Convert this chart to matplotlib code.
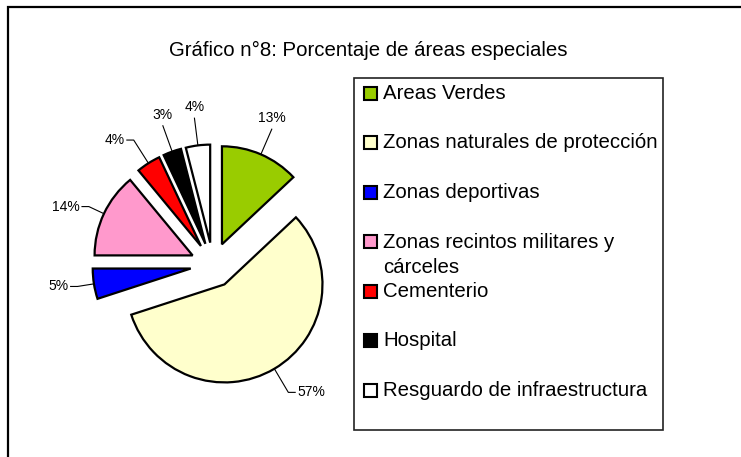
import numpy as np
import matplotlib.pyplot as plt
from matplotlib.patches import Rectangle

plt.rcParams['font.family'] = ['Liberation Sans', 'DejaVu Sans']

# data
categories = ['Areas Verdes', 'Zonas naturales de protección', 'Zonas deportivas',
              'Zonas recintos militares y\ncárceles', 'Cementerio', 'Hospital',
              'Resguardo de infraestructura']
values = [13, 57, 5, 14, 4, 3, 4]
colors = ['#99CC00', '#FFFFCC', '#0000FF', '#FF99CC', '#FF0000', '#000000', '#FFFFFF']
title = 'Gráfico n°8: Porcentaje de áreas especiales'

W, H = 741, 457
fig = plt.figure(figsize=(W / 100, H / 100), dpi=100)

# outer chart frame (cropped on right/bottom)
fig.patches.append(Rectangle((8 / W, -0.1), 1.2, 1 - 7 / H + 0.1, transform=fig.transFigure,
                             fill=False, lw=1.6, ec='black'))

fig.text(368 / W, 1 - 50 / H, title, ha='center', va='center', fontsize=14.7)

# pie axes: centre at (213, 265) px, radius 98 px
cx, cy, r_px, L = 213, 265, 98, 1.9
side = 2 * L * r_px
ax = fig.add_axes([(cx - side / 2) / W, (H - cy - side / 2) / H, side / W, side / H])

expl = 0.23
wedges, _ = ax.pie(values, colors=colors, startangle=90, counterclock=False,
                   explode=[expl] * len(values),
                   wedgeprops=dict(edgecolor='black', linewidth=1.6))
ax.set_xlim(-L, L)
ax.set_ylim(-L, L)
ax.set_aspect('equal')
ax.axis('off')

for w, v in zip(wedges, values):
    a = np.deg2rad((w.theta1 + w.theta2) / 2)
    c, s = np.cos(a), np.sin(a)
    x0, y0 = w.center[0] + c, w.center[1] + s
    rl = 1.17 if c < -0.6 else 1.28   # shorter leaders on the far left
    x1, y1 = c * (expl + rl), s * (expl + rl)
    lab = f'{v}%'
    if abs(c) < 0.4:
        ax.plot([x0, x1], [y0, y1], color='black', lw=0.8, clip_on=False)
        ax.text(x1, y1 + 0.04, lab, ha='center', va='bottom', fontsize=10, clip_on=False)
    else:
        sgn = 1 if c > 0 else -1
        x2 = x1 + sgn * 0.07
        ax.plot([x0, x1, x2], [y0, y1, y1], color='black', lw=0.8, clip_on=False)
        ax.text(x2 + sgn * 0.02, y1, lab, ha='left' if sgn > 0 else 'right',
                va='center', fontsize=10, clip_on=False)

# legend box drawn Excel-style with fixed slots
lx0, ly0, lx1, ly1 = 354, 78, 663, 430
fig.patches.append(Rectangle((lx0 / W, 1 - ly1 / H), (lx1 - lx0) / W, (ly1 - ly0) / H,
                             transform=fig.transFigure, fill=False, lw=1.2, ec='#222222'))
for i, (lab, col) in enumerate(zip(categories, colors)):
    yc = 93 + 49.5 * i
    fig.patches.append(Rectangle((364 / W, 1 - (yc + 6.5) / H), 13 / W, 13 / H,
                                 transform=fig.transFigure, fc=col, ec='black', lw=1.5))
    fig.text(383 / W, 1 - (yc - 9) / H, lab, ha='left', va='top', fontsize=14.7,
             linespacing=1.45)

fig.savefig('out.png', dpi=100)
